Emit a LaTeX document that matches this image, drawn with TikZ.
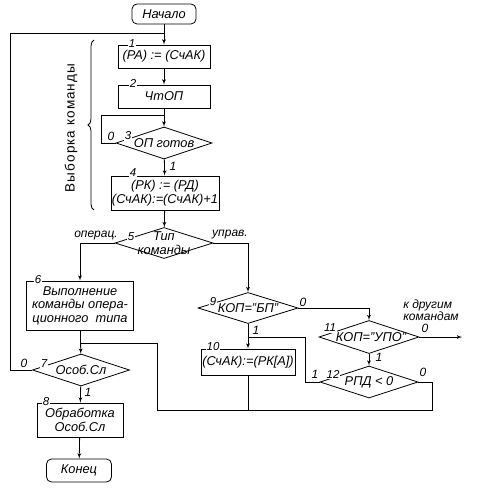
\documentclass[tikz,border=0pt]{standalone}
\usepackage{fontspec}
\setmainfont{Liberation Sans}
\usetikzlibrary{arrows,shapes.geometric,decorations.pathreplacing}

\begin{document}
\begin{tikzpicture}[x=1pt,y=-1pt,line width=0.8pt,font=\fontsize{12.8}{13.5}\selectfont\itshape]
\tikzset{block/.style = {shape=rectangle,draw,align=center,inner sep=1pt}}
\tikzset{term/.style = {block,rounded corners=5pt}}
\tikzset{cond/.style = {shape=diamond,draw,inner sep=0pt,minimum width=98,minimum height=32}}
\tikzset{edge/.style = {->,> = latex'}}
\tikzset{num/.style = {fill=white,inner sep=0.6pt,font=\fontsize{11.5}{12}\selectfont\itshape}}
\tikzset{tag/.style = {inner sep=0pt,font=\fontsize{12}{11}\selectfont\itshape}}
\useasboundingbox (0,0) rectangle (477,492);
% blocks
\node[term,minimum width=64,minimum height=20] (start) at (164,14) {Начало};
\node[block,minimum width=92,minimum height=23] (b1) at (164,56.5) {(РА) := (СчАК)};
\node[block,minimum width=92,minimum height=23] (b2) at (164,96.5) {ЧтОП};
\node[cond,minimum width=96,label=center:{ОП готов}] (d3) at (164,143) {};
\node[block,minimum width=98,minimum height=34] (b4) at (165,193) {(РК) := (РД)\\(СчАК):=(СчАК)+1};
\node[cond,minimum height=31,label={[align=center]center:{Тип\\команды}}] (d5) at (164,243) {};
\node[block,minimum width=107,minimum height=49] (b6) at (80,305.5) {Выполнение\\команды опера-\\ционного\ \ типа};
\node[cond,minimum width=97,label=center:{Особ.Сл}] (d7) at (81,370) {};
\node[block,minimum width=86,minimum height=34] (b8) at (80,420) {Обработка\\Особ.Сл};
\node[term,minimum width=65,minimum height=23] (end) at (79,470.5) {Конец};
\node[cond,minimum width=100,minimum height=31,label=center:{КОП="БП"}] (d9) at (248,308) {};
\node[block,minimum width=94,minimum height=26] (b10) at (248,362) {(СчАК):=(РК[А])};
\node[cond,minimum width=100,minimum height=33,label={[xshift=2pt]center:{КОП="УПО"}}] (d11) at (369,337) {};
\node[cond,minimum height=32,label=center:{РПД < 0}] (d12) at (369,382) {};
% numbers
\node[num] (n1) at (132,43.5) {1};
\node[num] (n2) at (133,83.5) {2};
\node[num] (n3) at (128,136) {3};
\node[num] (n4) at (133,173) {4};
\node[num] (n5) at (131,237) {5};
\node[num] (n6) at (38,280) {6};
\node[num] (n7) at (44,364) {7};
\node[num] (n8) at (46,402) {8};
\node[num] (n9) at (213,302) {9};
\node[num] (n10) at (213,347) {10};
\node[num] (n11) at (330,328) {11};
\node[num] (n12) at (333,374) {12};
% brace
\draw[decorate,decoration={brace,amplitude=6pt}] (94,210) -- (94,40);
\node[rotate=90,font=\fontsize{13.5}{14}\selectfont\addfontfeature{LetterSpace=8}] (fetch) at (71,128) {Выборка команды};
% joints
\coordinate (j0) at (10,33);
\coordinate (j1) at (164,33);
\coordinate (j3) at (164,115);
\coordinate (j7) at (80,343);
\coordinate (j10) at (248,337);
\coordinate (k1) at (432,410);
\coordinate (k2) at (157,343);
\coordinate (k3) at (101,143);
\coordinate (k4) at (305,382);
\coordinate (out) at (462,337);
% edges
\draw[edge] (start) -- (b1);
\draw (d7.west) -| (j0) -- (j1);
\draw[edge] (b1) -- (b2);
\draw[edge] (b2) -- (d3);
\draw (d3.west) -- (k3) |- (j3);
\draw[edge] (d3) -- (b4);
\draw[edge] (b4) -- (d5);
\draw[edge] (d5.west) -| (b6.north);
\draw[edge] (d5.east) -| (d9.north);
\draw[edge] (b6) -- (d7);
\draw (d12.east) -| (k1) -| (k2) -- (j7);
\draw[edge] (d7) -- (b8);
\draw[edge] (b8) -- (end);
\draw[edge] (d9) -- (b10);
\draw (b10.south) -- (b10.south |- k1);
\draw (d12.west) -- (k4) |- (j10);
\draw[edge] (d9.east) -| (d11.north);
\draw[edge] (d11.east) -- (out);
\draw[edge] (d11) -- (d12);
% branch labels
\node[tag] (t3a) at (111,136) {0};
\node[tag] (t3b) at (173,166) {1};
\node[tag] (t5a) at (96,236) {операц.};
\node[tag] (t5b) at (230,235) {управ.};
\node[tag] (t7a) at (24,363) {0};
\node[tag] (t7b) at (88,392) {1};
\node[tag] (t9a) at (303,302) {0};
\node[tag] (t9b) at (256,330) {1};
\node[tag] (t11a) at (425,328) {0};
\node[tag] (t11b) at (379,357) {1};
\node[tag] (t12a) at (315,374) {1};
\node[tag] (t12b) at (423,372) {0};
\node[tag,align=left] (other) at (431,310) {к другим\\командам};
\end{tikzpicture}
\end{document}
